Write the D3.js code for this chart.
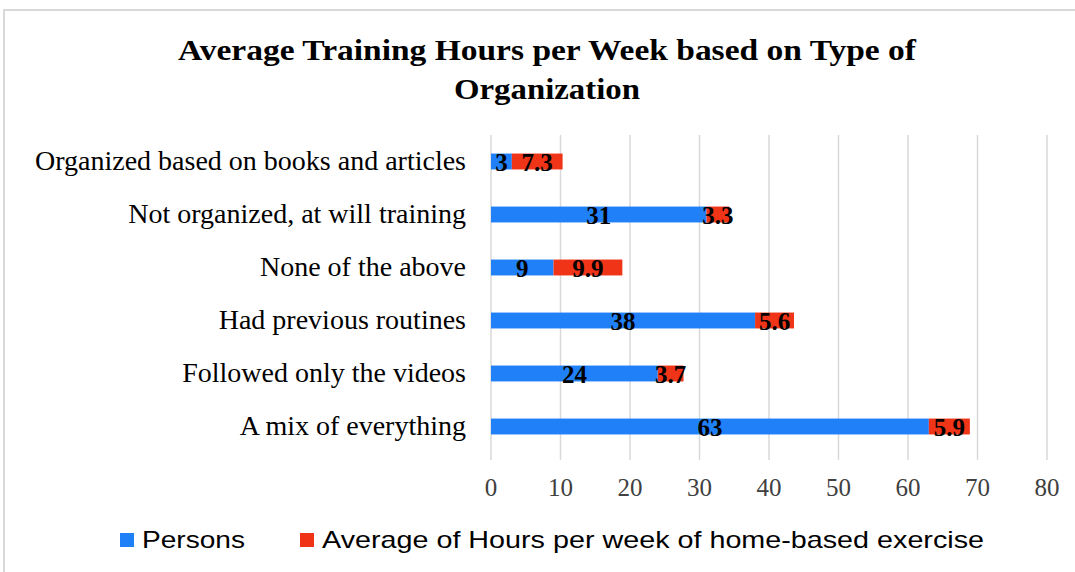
<!DOCTYPE html>
<html>
<head>
<meta charset="utf-8">
<script src="https://cdn.jsdelivr.net/npm/d3@7"></script>
<style>
  body { margin: 0; background: #fff; }
</style>
</head>
<body>
<div id="chart"></div>
<script>
const categories = [
  "Organized based on books and articles",
  "Not organized, at will training",
  "None of the above",
  "Had previous routines",
  "Followed only the videos",
  "A mix of everything"
];
const persons = [3, 31, 9, 38, 24, 63];
const hours = [7.3, 3.3, 9.9, 5.6, 3.7, 5.9];
const seriesNames = ["Persons", "Average of Hours per week of home-based exercise"];
const tickValues = [0, 10, 20, 30, 40, 50, 60, 70, 80];

const width = 1075, height = 572;
const colors = ["#2080f8", "#f03418"];

const svg = d3.select("#chart").append("svg")
  .attr("width", width)
  .attr("height", height);

// outer frame
svg.append("path")
  .attr("d", `M4,${height} L4,10 L${width},10`)
  .attr("fill", "none")
  .attr("stroke", "#d9d9d9")
  .attr("stroke-width", 2);

// title
const title = svg.append("g")
  .attr("font-family", "'Liberation Serif', 'Times New Roman', serif")
  .attr("font-weight", "bold")
  .attr("font-size", 29)
  .attr("fill", "#000")
  .attr("text-anchor", "middle");
title.append("text").attr("x", 547).attr("y", 60)
  .attr("textLength", 738).attr("lengthAdjust", "spacingAndGlyphs")
  .text("Average Training Hours per Week based on Type of");
title.append("text").attr("x", 547).attr("y", 99)
  .attr("textLength", 186).attr("lengthAdjust", "spacingAndGlyphs")
  .text("Organization");

const x = d3.scaleLinear().domain([0, 80]).range([491, 1047]);
const y = d3.scaleBand().domain(categories).range([135, 453]).paddingInner(0.7).paddingOuter(0.35);

// gridlines
svg.append("g")
  .selectAll("line")
  .data(tickValues)
  .join("line")
  .attr("x1", d => x(d)).attr("x2", d => x(d))
  .attr("y1", 135).attr("y2", 460)
  .attr("stroke", "#d9d9d9")
  .attr("stroke-width", 1.5);

// tick labels
svg.append("g")
  .attr("font-family", "'Liberation Serif', 'Times New Roman', serif")
  .attr("font-size", 25)
  .attr("fill", "#404040")
  .attr("text-anchor", "middle")
  .selectAll("text")
  .data(tickValues)
  .join("text")
  .attr("x", d => x(d))
  .attr("y", 496)
  .text(d => d);

// category labels
svg.append("g")
  .attr("font-family", "'Liberation Serif', 'Times New Roman', serif")
  .attr("font-size", 28)
  .attr("fill", "#000")
  .attr("text-anchor", "end")
  .selectAll("text")
  .data(categories)
  .join("text")
  .attr("x", 466)
  .attr("y", d => y(d) + y.bandwidth() / 2 + 8)
  .text(d => d);

// stacked data
const rows = categories.map((c, i) => ({ cat: c, persons: persons[i], hours: hours[i] }));
const stack = d3.stack().keys(["persons", "hours"]);
const series = stack(rows);

const layers = svg.append("g")
  .selectAll("g")
  .data(series)
  .join("g")
  .attr("fill", (d, i) => colors[i]);

layers.selectAll("rect")
  .data(d => d)
  .join("rect")
  .attr("x", d => x(d[0]))
  .attr("y", d => y(d.data.cat))
  .attr("width", d => x(d[1]) - x(d[0]))
  .attr("height", y.bandwidth());

// value labels
layers.selectAll("text")
  .data(d => d)
  .join("text")
  .attr("x", d => (x(d[0]) + x(d[1])) / 2)
  .attr("y", d => y(d.data.cat) + y.bandwidth() / 2 + 9)
  .attr("text-anchor", "middle")
  .attr("font-family", "'Liberation Serif', 'Times New Roman', serif")
  .attr("font-weight", "bold")
  .attr("font-size", 25)
  .attr("fill", "#000")
  .text(d => +(d[1] - d[0]).toFixed(1));

// legend
const legend = svg.append("g")
  .attr("font-family", "'Liberation Sans', Arial, sans-serif")
  .attr("font-size", 24)
  .attr("fill", "#000");
const legendX = [120, 300];
const legendW = [103, 662];
seriesNames.forEach((name, i) => {
  legend.append("rect")
    .attr("x", legendX[i]).attr("y", 533)
    .attr("width", 14).attr("height", 14)
    .attr("fill", colors[i]);
  legend.append("text")
    .attr("x", legendX[i] + 22).attr("y", 548)
    .attr("textLength", legendW[i]).attr("lengthAdjust", "spacingAndGlyphs")
    .text(name);
});
</script>
</body>
</html>
